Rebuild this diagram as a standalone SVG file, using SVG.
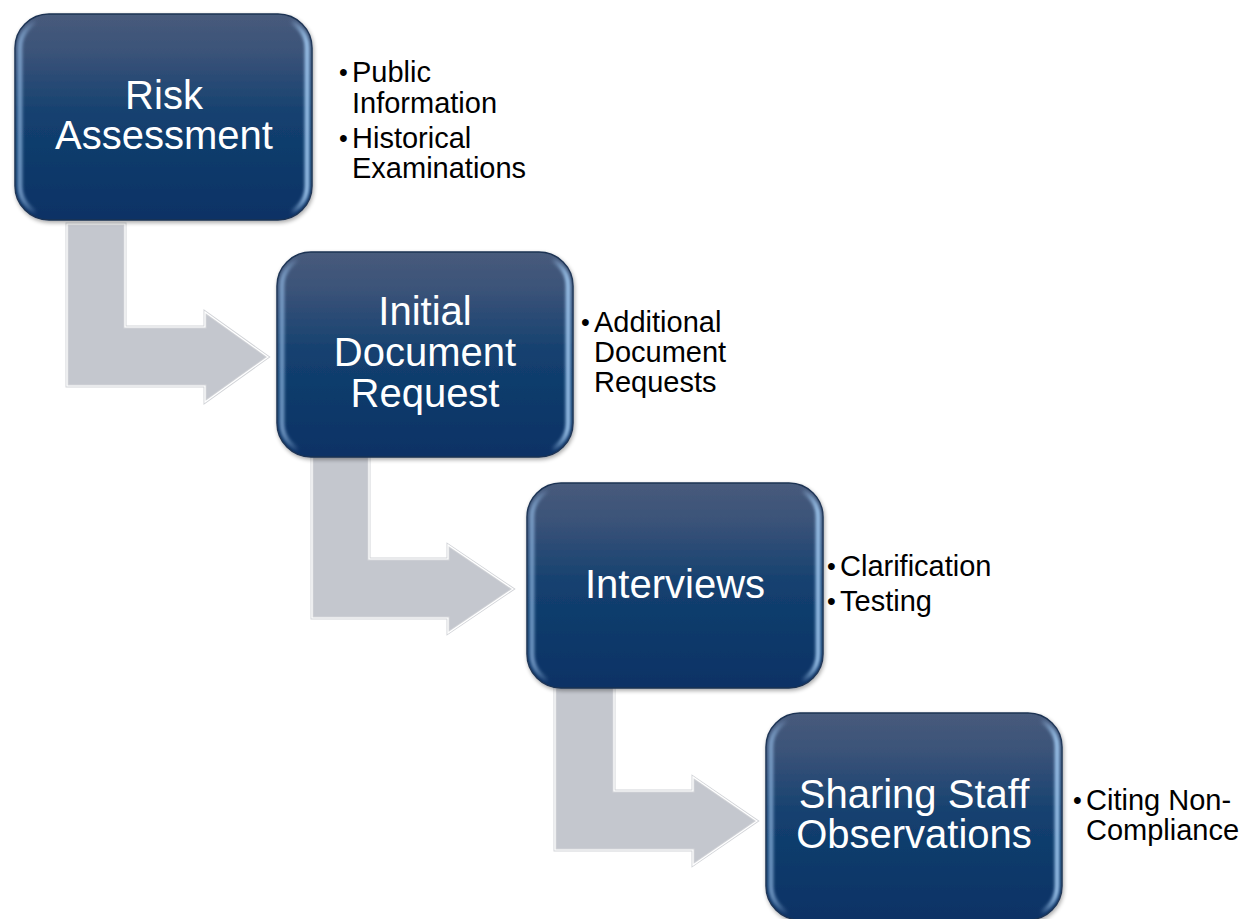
<svg xmlns="http://www.w3.org/2000/svg" width="1248" height="919" viewBox="0 0 1248 919">
  <defs>
    <linearGradient id="boxFill" x1="0" y1="0" x2="0" y2="1">
      <stop offset="0" stop-color="#485B7B"/>
      <stop offset="0.18" stop-color="#3B5379"/>
      <stop offset="0.5" stop-color="#13406F"/>
      <stop offset="1" stop-color="#093265"/>
    </linearGradient>
    <linearGradient id="bevel" x1="0" y1="0" x2="1" y2="0">
      <stop offset="0" stop-color="#8DB3DD" stop-opacity="0.75"/>
      <stop offset="0.06" stop-color="#8DB3DD" stop-opacity="0"/>
      <stop offset="0.94" stop-color="#9CC4EC" stop-opacity="0"/>
      <stop offset="1" stop-color="#9CC4EC" stop-opacity="0.95"/>
    </linearGradient>
    <filter id="soft" x="-5%" y="-5%" width="110%" height="110%">
      <feGaussianBlur stdDeviation="1.6"/>
    </filter>
    <filter id="shadow" x="-5%" y="-5%" width="115%" height="115%">
      <feGaussianBlur in="SourceAlpha" stdDeviation="2"/>
      <feOffset dx="1" dy="2" result="b"/>
      <feComponentTransfer><feFuncA type="linear" slope="0.35"/></feComponentTransfer>
      <feMerge><feMergeNode/><feMergeNode in="SourceGraphic"/></feMerge>
    </filter>
  </defs>
  <style>
    .box { fill: url(#boxFill); stroke: #1C3353; stroke-width: 1.5; }
    .bevel { fill: none; stroke: url(#bevel); stroke-width: 5; filter: url(#soft); }
    .title { font-family: "Liberation Sans", Arial, sans-serif; font-size: 40px; fill: #FFFFFF; text-anchor: middle; }
    .note { font-family: "Liberation Sans", Arial, sans-serif; font-size: 29px; fill: #000000; }
    .dot { font-size: 25px; }
    .arrow { fill: #C4C7CE; stroke: #D2D4D8; stroke-width: 3; stroke-linejoin: miter; }
    .arrow-rim { fill: none; stroke: #FFFFFF; stroke-width: 1.2; stroke-linejoin: miter; }
  </style>
  <rect width="1248" height="919" fill="#FFFFFF"/>

  <!-- bent arrows between steps -->
  <g id="connectors">
    <path class="arrow" d="M67,224 H125 V327 H205 V312 L268,357 L205,402 V386 H67 Z"/>
    <path class="arrow-rim" d="M67,224 H125 V327 H205 V312 L268,357 L205,402 V386 H67 Z"/>
    <path class="arrow" d="M312,455 H369 V559 H448 V545 L513,589 L448,633 V618 H312 Z"/>
    <path class="arrow-rim" d="M312,455 H369 V559 H448 V545 L513,589 L448,633 V618 H312 Z"/>
    <path class="arrow" d="M555,686 H614 V791 H693 V777 L757,821 L693,865 V850 H555 Z"/>
    <path class="arrow-rim" d="M555,686 H614 V791 H693 V777 L757,821 L693,865 V850 H555 Z"/>
  </g>

  <g id="step-risk-assessment">
    <rect class="box" x="15" y="14" width="297" height="206" rx="34" filter="url(#shadow)"/>
    <rect class="bevel" x="20" y="19" width="287" height="196" rx="29"/>
    <text class="title" x="164" y="109">Risk</text>
    <text class="title" x="164" y="149">Assessment</text>
  </g>
  <g id="notes-risk-assessment" class="note">
    <text class="dot" x="339" y="81">•</text><text x="352" y="82">Public</text>
    <text x="352" y="113">Information</text>
    <text class="dot" x="339" y="147">•</text><text x="352" y="148">Historical</text>
    <text x="352" y="178">Examinations</text>
  </g>

  <g id="step-initial-document-request">
    <rect class="box" x="277" y="252" width="296" height="205" rx="34" filter="url(#shadow)"/>
    <rect class="bevel" x="282" y="257" width="286" height="195" rx="29"/>
    <text class="title" x="425" y="325">Initial</text>
    <text class="title" x="425" y="366">Document</text>
    <text class="title" x="425" y="407">Request</text>
  </g>
  <g id="notes-initial-document-request" class="note">
    <text class="dot" x="581" y="331">•</text><text x="594" y="332">Additional</text>
    <text x="594" y="362">Document</text>
    <text x="594" y="392">Requests</text>
  </g>

  <g id="step-interviews">
    <rect class="box" x="527" y="483" width="296" height="205" rx="34" filter="url(#shadow)"/>
    <rect class="bevel" x="532" y="488" width="286" height="195" rx="29"/>
    <text class="title" x="675" y="598">Interviews</text>
  </g>
  <g id="notes-interviews" class="note">
    <text class="dot" x="827" y="575">•</text><text x="840" y="576">Clarification</text>
    <text class="dot" x="827" y="610">•</text><text x="840" y="611">Testing</text>
  </g>

  <g id="step-sharing-staff-observations">
    <rect class="box" x="766" y="713" width="296" height="207" rx="34" filter="url(#shadow)"/>
    <rect class="bevel" x="771" y="718" width="286" height="197" rx="29"/>
    <text class="title" x="914" y="808">Sharing Staff</text>
    <text class="title" x="914" y="848">Observations</text>
  </g>
  <g id="notes-sharing-staff-observations" class="note">
    <text class="dot" x="1073" y="809">•</text><text x="1086" y="810">Citing Non-</text>
    <text x="1086" y="840">Compliance</text>
  </g>
</svg>
